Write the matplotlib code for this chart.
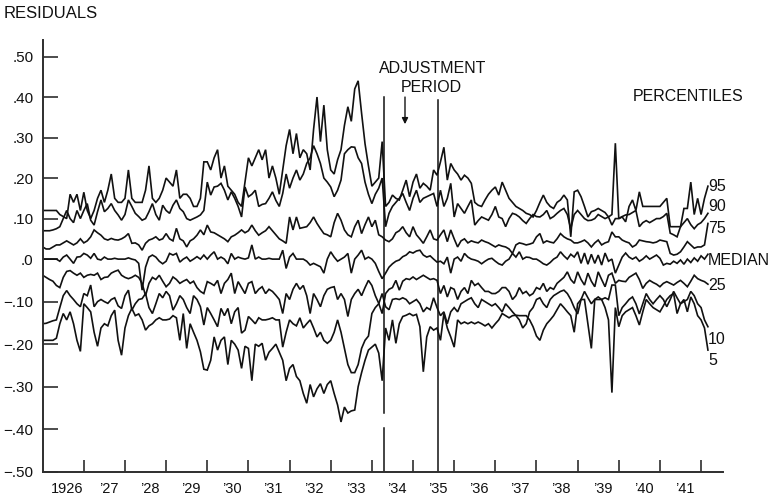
import numpy as np
import matplotlib
matplotlib.use("Agg")
import matplotlib.pyplot as plt

plt.rcParams['font.family'] = ['Liberation Sans', 'DejaVu Sans']

# Monthly residual percentiles, January 1926 onward (one row per year)
p95 = [
    .12, .12, .12, .12, .12, .11, .105, .10, .16, .14, .16, .12,
    .165, .12, .10, .12, .15, .17, .14, .17, .21, .15, .14, .14,
    .15, .22, .15, .14, .14, .14, .17, .23, .15, .14, .15, .17,
    .20, .19, .18, .22, .15, .16, .16, .15, .13, .13, .15, .24,
    .24, .22, .25, .27, .20, .23, .18, .17, .16, .14, .13, .19,
    .25, .23, .25, .27, .245, .27, .20, .23, .20, .16, .22, .28,
    .32, .26, .31, .25, .27, .26, .22, .32, .40, .29, .38, .27,
    .22, .21, .245, .27, .33, .376, .34, .42, .44, .36, .285, .23,
    .18, .19, .20, .29, .13, .14, .158, .15, .146, .17, .195, .154,
    .19, .21, .175, .187, .18, .17, .22, .207, .24, .276, .195, .236,
    .22, .21, .195, .207, .20, .187, .14, .133, .13, .146, .16, .17,
    .178, .158, .19, .17, .15, .14, .13, .125, .12, .113, .11, .104,
    .12, .14, .158, .14, .13, .125, .14, .146, .158, .146, .055, .166,
    .17, .154, .13, .104, .117, .12, .125, .12, .115, .104, .11, .286,
    .10, .104, .092, .13, .146, .12, .166, .13, .13, .13, .13, .13,
    .13, .14, .15, .08, .08, .08, .08, .125, .125, .19, .11, .15,
    .11, .15, .18,
]
p90 = [
    .07, .07, .07, .072, .075, .08, .10, .12, .10, .09, .12, .10,
    .12, .137, .096, .084, .117, .146, .117, .125, .137, .12, .109, .096,
    .11, .146, .13, .113, .105, .096, .10, .117, .137, .11, .096, .133,
    .12, .113, .133, .146, .125, .117, .10, .096, .10, .104, .109, .12,
    .19, .158, .178, .18, .187, .17, .146, .166, .15, .13, .104, .178,
    .154, .16, .17, .13, .135, .137, .15, .166, .145, .13, .162, .21,
    .175, .20, .22, .195, .21, .236, .25, .28, .26, .236, .20, .19,
    .178, .154, .17, .195, .26, .27, .277, .276, .25, .236, .19, .16,
    .137, .16, .175, .20, .08, .113, .13, .14, .15, .162, .14, .12,
    .15, .17, .14, .15, .154, .158, .162, .13, .17, .13, .15, .187,
    .104, .137, .125, .113, .13, .146, .084, .095, .104, .10, .096, .11,
    .13, .104, .10, .08, .10, .113, .11, .104, .095, .088, .10, .11,
    .105, .104, .11, .12, .10, .105, .113, .12, .125, .11, .075, .11,
    .12, .11, .10, .095, .096, .10, .11, .105, .10, .104, .084, .10,
    .10, .105, .109, .11, .115, .12, .08, .09, .095, .09, .095, .10,
    .10, .105, .113, .064, .06, .055, .08, .09, .10, .085, .075, .085,
    .09, .10, .113,
]
p75 = [
    .03, .025, .025, .03, .035, .035, .04, .045, .04, .035, .04, .05,
    .04, .045, .055, .072, .065, .059, .05, .047, .051, .048, .047, .05,
    .055, .063, .039, .04, .035, .022, .039, .047, .05, .055, .047, .05,
    .063, .05, .045, .076, .05, .045, .03, .045, .05, .059, .072, .06,
    .084, .067, .065, .06, .055, .05, .043, .055, .059, .065, .072, .065,
    .07, .084, .07, .059, .065, .07, .08, .07, .06, .05, .045, .039,
    .104, .072, .104, .076, .078, .08, .09, .104, .088, .075, .063, .06,
    .055, .09, .113, .096, .072, .06, .055, .08, .096, .063, .085, .104,
    .08, .096, .06, .055, .047, .043, .05, .065, .07, .08, .065, .055,
    .08, .06, .05, .039, .055, .072, .05, .047, .06, .072, .043, .072,
    .05, .03, .045, .05, .04, .045, .042, .04, .047, .043, .04, .035,
    .03, .035, .032, .03, .025, .014, .035, .04, .038, .035, .037, .04,
    .055, .063, .04, .045, .042, .04, .05, .063, .055, .05, .047, .04,
    .04, .043, .047, .04, .03, .04, .047, .035, .04, .043, .067, .055,
    .055, .047, .043, .04, .03, .035, .047, .045, .043, .042, .04, .042,
    .047, .045, .043, .014, .01, .012, .018, .03, .043, .035, .027, .03,
    .03, .035, .088,
]
p50 = [
    .0, .0, .0, .0, .0, -.005, .005, .01, .0, -.01, .005, .006,
    .014, .01, .002, .014, .0, -.002, .005, .0, .0, .002, .0, .0,
    .0, .003, .0, -.002, -.01, -.073, -.019, .005, .01, .005, -.005, -.011,
    -.005, .014, .01, .014, -.007, .0, .005, -.005, .0, .006, .0, .01,
    .0, .01, .018, .0, .005, .0, -.011, .014, .0, .005, .002, .0,
    .003, .035, .0, .005, .0, .0, .002, .0, .0, .0, .022, -.022,
    .005, .014, .0, .0, .0, -.005, -.014, -.01, -.014, -.018, -.033, .0,
    .018, .005, -.005, .0, .005, .014, -.033, .0, .01, .022, .0, .005,
    .0, -.01, -.029, -.046, -.033, -.019, -.011, -.005, -.002, .006, .01, .018,
    .015, .02, .022, .01, .005, .008, .0, -.007, -.005, -.011, .005, -.033,
    .0, .005, -.005, .014, .005, .0, -.002, -.005, -.011, -.005, .0, .002,
    -.005, -.011, -.014, -.005, .0, .014, .005, .018, .0, .005, .004, .0,
    .0, -.005, -.011, -.014, -.008, .0, .005, .018, .008, .0, .012, .005,
    .018, -.01, .015, -.012, .012, -.01, .01, -.014, .015, -.005, .0, -.033,
    -.014, .005, .015, .005, .0, .005, -.005, .0, .008, .0, .005, .01,
    .002, -.014, -.01, -.012, -.005, -.01, -.002, -.012, .0, -.008, .003, -.005,
    .008, .0, .012,
]
p25 = [
    -.038, -.043, -.048, -.052, -.062, -.067, -.043, -.029, -.027, -.033, -.038, -.033,
    -.043, -.038, -.036, -.038, -.033, -.048, -.043, -.042, -.033, -.029, -.026, -.038,
    -.043, -.046, -.043, -.038, -.043, -.057, -.086, -.057, -.043, -.048, -.038, -.052,
    -.065, -.057, -.042, -.048, -.057, -.052, -.048, -.057, -.052, -.067, -.076, -.081,
    -.053, -.057, -.062, -.050, -.081, -.057, -.048, -.033, -.081, -.053, -.067, -.081,
    -.057, -.053, -.081, -.071, -.065, -.081, -.071, -.076, -.085, -.095, -.128, -.081,
    -.095, -.071, -.057, -.071, -.062, -.086, -.128, -.081, -.095, -.112, -.086, -.071,
    -.067, -.065, -.095, -.081, -.095, -.135, -.095, -.081, -.071, -.086, -.067, -.050,
    -.062, -.086, -.104, -.128, -.081, -.071, -.067, -.050, -.073, -.052, -.046, -.048,
    -.042, -.048, -.043, -.038, -.043, -.048, -.046, -.050, -.081, -.062, -.089, -.067,
    -.071, -.095, -.076, -.067, -.081, -.050, -.062, -.057, -.067, -.076, -.076, -.081,
    -.081, -.076, -.067, -.067, -.076, -.095, -.086, -.067, -.081, -.076, -.086, -.081,
    -.067, -.071, -.057, -.076, -.067, -.071, -.057, -.050, -.043, -.030, -.048, -.057,
    -.030, -.048, -.061, -.033, -.052, -.065, -.030, -.048, -.065, -.038, -.033, -.057,
    -.050, -.052, -.053, -.043, -.038, -.033, -.048, -.069, -.057, -.050, -.055, -.059,
    -.065, -.057, -.053, -.057, -.061, -.055, -.050, -.057, -.065, -.052, -.038, -.046,
    -.050, -.053, -.059,
]
p10 = [
    -.152, -.151, -.148, -.145, -.143, -.114, -.086, -.074, -.086, -.095, -.105, -.112,
    -.081, -.086, -.061, -.112, -.100, -.095, -.100, -.104, -.095, -.091, -.110, -.116,
    -.086, -.073, -.120, -.105, -.095, -.093, -.081, -.114, -.128, -.105, -.081, -.091,
    -.076, -.086, -.120, -.105, -.086, -.095, -.114, -.128, -.086, -.095, -.112, -.155,
    -.114, -.128, -.143, -.159, -.116, -.133, -.116, -.152, -.124, -.114, -.174, -.167,
    -.135, -.143, -.152, -.138, -.143, -.143, -.141, -.138, -.143, -.143, -.207, -.172,
    -.143, -.152, -.157, -.138, -.162, -.152, -.143, -.162, -.183, -.172, -.191, -.198,
    -.191, -.172, -.143, -.172, -.210, -.248, -.267, -.267, -.248, -.210, -.191, -.181,
    -.128, -.114, -.105, -.081, -.112, -.119, -.095, -.093, -.095, -.091, -.095, -.105,
    -.100, -.095, -.105, -.124, -.114, -.119, -.091, -.114, -.133, -.124, -.152, -.124,
    -.114, -.124, -.105, -.100, -.095, -.091, -.105, -.114, -.095, -.100, -.105, -.110,
    -.105, -.114, -.124, -.105, -.114, -.124, -.133, -.143, -.162, -.152, -.124, -.114,
    -.095, -.091, -.105, -.114, -.095, -.086, -.081, -.076, -.073, -.081, -.095, -.114,
    -.129, -.095, -.076, -.091, -.105, -.095, -.089, -.095, -.091, -.095, -.061, -.061,
    -.133, -.114, -.105, -.095, -.089, -.105, -.129, -.105, -.081, -.095, -.105, -.095,
    -.086, -.095, -.112, -.095, -.076, -.091, -.105, -.100, -.095, -.076, -.086, -.105,
    -.114, -.143, -.159,
]
p05 = [
    -.191, -.191, -.191, -.191, -.186, -.152, -.128, -.143, -.124, -.152, -.191, -.217,
    -.105, -.114, -.124, -.172, -.205, -.162, -.152, -.157, -.133, -.120, -.191, -.226,
    -.162, -.133, -.116, -.133, -.129, -.143, -.167, -.157, -.152, -.143, -.138, -.143,
    -.143, -.141, -.133, -.138, -.191, -.128, -.210, -.152, -.172, -.191, -.218, -.259,
    -.261, -.238, -.183, -.214, -.191, -.183, -.248, -.191, -.200, -.214, -.257, -.205,
    -.210, -.286, -.200, -.205, -.198, -.238, -.219, -.210, -.200, -.219, -.238, -.286,
    -.257, -.248, -.276, -.286, -.316, -.339, -.295, -.324, -.305, -.293, -.316, -.295,
    -.286, -.316, -.343, -.383, -.348, -.362, -.357, -.355, -.300, -.267, -.238, -.214,
    -.207, -.200, -.221, -.286, -.162, -.191, -.143, -.198, -.152, -.135, -.132, -.128,
    -.133, -.130, -.159, -.265, -.183, -.159, -.167, -.162, -.191, -.128, -.162, -.183,
    -.207, -.143, -.152, -.148, -.152, -.148, -.152, -.148, -.152, -.157, -.152, -.162,
    -.152, -.143, -.128, -.133, -.138, -.133, -.132, -.133, -.133, -.133, -.143, -.159,
    -.181, -.191, -.167, -.152, -.143, -.133, -.119, -.105, -.114, -.124, -.133, -.172,
    -.105, -.095, -.095, -.152, -.210, -.095, -.095, -.095, -.114, -.143, -.314, -.114,
    -.159, -.133, -.124, -.119, -.114, -.133, -.155, -.124, -.095, -.105, -.114, -.119,
    -.124, -.110, -.095, -.086, -.081, -.128, -.105, -.095, -.124, -.089, -.105, -.133,
    -.143, -.162, -.214,
]

series = [p95, p90, p75, p50, p25, p10, p05]
series_labels = ["95", "90", "75", "MEDIAN", "25", "10", "5"]
label_levels = [0.18, 0.129, 0.0765, -0.004, -0.061, -0.189, -0.239]

year_labels = ["1926", "\u201927", "\u201928", "\u201929", "\u201930", "\u201931",
               "\u201932", "\u201933", "\u201934", "\u201935", "\u201936", "\u201937",
               "\u201938", "\u201939", "\u201940", "\u201941"]
first_year = 1926
y_ticks = [0.5, 0.4, 0.3, 0.2, 0.1, 0.0, -0.1, -0.2, -0.3, -0.4, -0.5]
y_tick_labels = [".50", ".40", ".30", ".20", ".10", ".0", "\u2212.10", "\u2212.20",
                 "\u2212.30", "\u2212.40", "\u2212.50"]

adjust_start = 1934.30
adjust_end = 1935.61

ink = "#111111"
axis_ink = "#2e2e2e"

# the printed scale is slightly more open below zero than above it
NEG_STRETCH = 425.0 / 405.0


def y_forward(v):
    v = np.asarray(v, dtype=float)
    return np.where(v < 0, v * NEG_STRETCH, v)


def y_inverse(u):
    u = np.asarray(u, dtype=float)
    return np.where(u < 0, u / NEG_STRETCH, u)


fig = plt.figure(figsize=(7.73, 4.99), dpi=100)
ax = fig.add_axes([0.0552, 0.0547, 0.8805, 0.8651])
ax.set_yscale('function', functions=(y_forward, y_inverse))
ax.set_xlim(1926.0, 1942.54)
ax.set_ylim(-0.5, 0.5407)

months = np.arange(len(p95))
t = first_year + months / 12.0
for vals in series:
    ax.plot(t, vals, color=ink, lw=1.2, solid_joinstyle='miter')

# adjustment period markers
ax.plot([adjust_start, adjust_start], [0.40, -0.362], color=ink, lw=1.1)
ax.plot([adjust_start, adjust_start], [-0.397, -0.5], color=ink, lw=1.1)
ax.plot([adjust_end, adjust_end], [0.393, -0.5], color=ink, lw=1.1)
arrow_x = (adjust_start + adjust_end) / 2 - 0.15
ax.annotate("", xy=(arrow_x, 0.333), xytext=(arrow_x, 0.40),
            arrowprops=dict(arrowstyle='-|>', color=ink, lw=1.0,
                            mutation_scale=9, shrinkA=0, shrinkB=0))
ax.text(1935.47, 0.4716, "ADJUSTMENT", ha='center', va='center', fontsize=11.5, color=ink)
ax.text(1935.45, 0.4247, "PERIOD", ha='center', va='center', fontsize=11.5, color=ink)
ax.text(1941.685, 0.4025, "PERCENTILES", ha='center', va='center', fontsize=11.5, color=ink)

for lab, lev in zip(series_labels, label_levels):
    ax.text(1942.17, lev, lab, ha='left', va='center', fontsize=11.5, color=ink)

fig.text(4 / 773, 1 - 13 / 499, "RESIDUALS", ha='left', va='center', fontsize=12, color=ink)

# axes styling
for side in ('top', 'right'):
    ax.spines[side].set_visible(False)
for side in ('left', 'bottom'):
    ax.spines[side].set_linewidth(1.4)
    ax.spines[side].set_color(axis_ink)

ax.set_yticks(y_ticks)
ax.set_yticklabels(y_tick_labels)
ax.tick_params(axis='y', direction='in', length=10.8, width=1.2, color=axis_ink,
               pad=6.5, labelsize=11, labelcolor=ink)

n_years = len(year_labels)
ax.set_xticks([first_year + k + 1 for k in range(n_years)])
ax.set_xticklabels([])
ax.set_xticks([first_year + k + 0.6 for k in range(n_years)], minor=True)
ax.set_xticklabels(year_labels, minor=True)
ax.tick_params(axis='x', which='major', direction='in', length=8.6, width=1.2,
               color=axis_ink)
ax.tick_params(axis='x', which='minor', length=0, pad=7.5, labelsize=10.5, labelcolor=ink)

fig.savefig("out.png", dpi=100)
